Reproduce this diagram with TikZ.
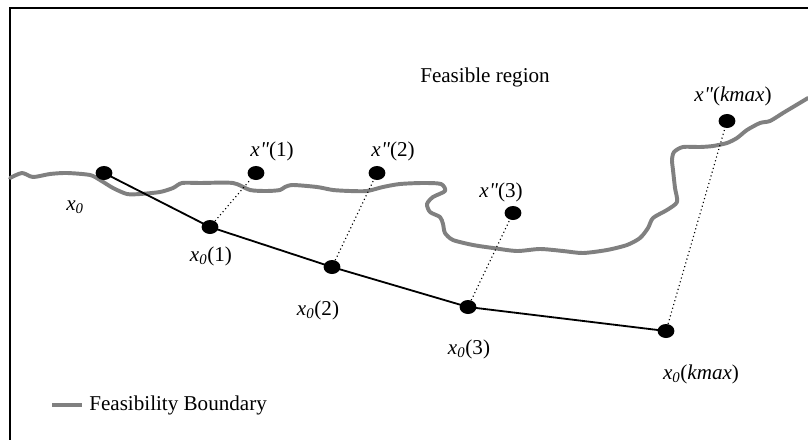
\documentclass[tikz,border=0pt]{standalone}
\usepackage{fontspec}
\setmainfont{Liberation Serif}
\usetikzlibrary{positioning,shapes.geometric}

\newcommand{\xz}{\textit{x}\textsubscript{\textit{0}}}
\newcommand{\xpp}{\textit{x\kern0.5pt\textquotesingle\kern-0.5pt\textquotesingle}}

\begin{document}
\begin{tikzpicture}[
  x=0.025cm, y=-0.025cm,
  font=\fontsize{15}{18}\selectfont,
  dot/.style={ellipse, fill=black, draw=none, inner sep=0pt,
    minimum width=0.42cm, minimum height=0.35cm},
  lbl/.style={inner sep=1pt},
  % grey wobbly border of the feasible set
  boundary/.style={draw=black!50, line width=2.8pt, line cap=round, line join=round},
  walk/.style={draw=black, line width=1.3pt},
  proj/.style={draw=black, line width=0.8pt, dotted}
]

% ---------- frame and bounding box ----------
\useasboundingbox (0,0) rectangle (808,440);
\draw[line width=1.3pt] (10,440) -- (10,8) -- (808,8);

% ---------- feasibility boundary ----------
\draw[boundary] plot[smooth, tension=0.45] coordinates {
  (10,178) (22,173) (33,177) (50,174) (67,173) (90,175) (100,180)
  (113,188) (127,194) (140,194) (160,192) (173,188) (182,183)
  (200,183) (233,183) (250,190) (267,191) (280,190) (285,187)
  (293,185) (317,187) (333,190) (350,191) (367,191) (383,187)
  (400,184) (423,183) (441,184) (445,191) (433,197) (427,204)
  (430,212) (440,217) (443,224) (445,233) (453,240) (473,245)
  (493,248) (517,251) (540,249) (563,251) (583,253) (607,250)
  (627,245) (640,238) (648,228) (653,218) (667,210) (677,202)
  (675,188) (673,170) (672,160) (674,152) (683,147) (700,147)
  (713,146) (727,143) (737,138) (747,130) (760,123) (770,121)
  (783,113) (793,107) (808,98)};

% ---------- iterates on the walk ----------
\node[dot] (p0) at (104,173) {};
\node[dot] (p1) at (210,227) {};
\node[dot] (p2) at (332,267) {};
\node[dot] (p3) at (468,307) {};
\node[dot] (pk) at (666,331) {};

% ---------- projected points ----------
\node[dot] (q1) at (256,173) {};
\node[dot] (q2) at (377,173) {};
\node[dot] (q3) at (513,213) {};
\node[dot] (qk) at (727,121) {};

% ---------- connectors ----------
\draw[walk] (p0.center) -- (p1.center) -- (p2.center) -- (p3.center) -- (pk.center);
\draw[proj] (p1) -- (q1);
\draw[proj] (p2) -- (q2);
\draw[proj] (p3) -- (q3);
\draw[proj] (pk) -- (qk);

% ---------- labels ----------
\node[lbl] (region) at (485,77) {Feasible region};
\node[lbl] (l0) at (75,207) {\xz};
\node[lbl] (l1) at (211,256) {\xz(1)};
\node[lbl] (l2) at (318,310) {\xz(2)};
\node[lbl] (l3) at (469,349) {\xz(3)};
\node[lbl] (lk) at (701,374) {\xz(\textit{kmax})};
\node[lbl] (m1) at (272,151) {\xpp(1)};
\node[lbl] (m2) at (393,151) {\xpp(2)};
\node[lbl] (m3) at (501,192) {\xpp(3)};
\node[lbl] (mk) at (733,96) {\xpp(\textit{kmax})};

% ---------- legend ----------
\coordinate (leg) at (52,405);
\draw[draw=black!50, line width=3.5pt] (leg) -- ++(30,0) coordinate (legend end);
\node[lbl, anchor=west, right=4pt of legend end] (legtext) {Feasibility Boundary};

\end{tikzpicture}
\end{document}
